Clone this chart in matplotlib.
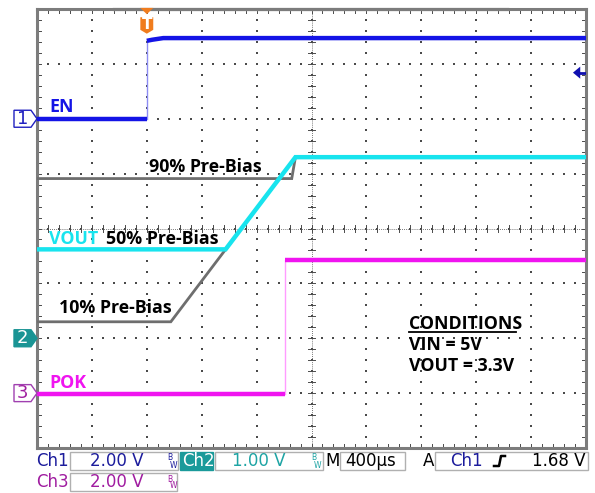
import numpy as np
import matplotlib.pyplot as plt
from matplotlib.patches import Polygon, Rectangle
from matplotlib.transforms import blended_transform_factory

W, H = 595, 493

# timebase: 400 us/div, trigger point 2 div in from the left edge
t_per_div = 400
t_start, t_stop = -800, 3200

# vertical settings: V/div and ground marker (div from bottom)
ch1_scale, ch1_gnd = 2.0, 6.0
ch2_scale, ch2_gnd = 1.0, 2.0
ch3_scale, ch3_gnd = 2.0, 1.0
trig_level = 1.68

# EN (ch1)
en_t = [-800, 0, 0, 40, 120, 3200]
en_v = [0.0, 0.0, 2.84, 2.88, 2.94, 2.94]
# VOUT, 50% pre-bias (ch2)
vout50_t = [-800, 574, 1083, 3200]
vout50_v = [1.62, 1.62, 3.30, 3.30]
# VOUT, 10% and 90% pre-bias (ch2, reference traces)
vout10_t = [-800, 175, 1083, 3200]
vout10_v = [0.30, 0.30, 3.30, 3.30]
vout90_t = [-800, 1056, 1083, 3200]
vout90_v = [2.91, 2.91, 3.30, 3.30]
# POK (ch3)
pok_t = [-800, 1005, 1005, 3200]
pok_v = [-0.05, -0.05, 4.85, 4.85]

c_en = '#1414e6'
c_vout = '#18e4ee'
c_pok = '#f014f0'
c_ref = '#6e6e6e'

fig = plt.figure(figsize=(W / 100, H / 100), dpi=100)
ax = fig.add_axes([37 / W, (H - 448) / H, 549 / W, 439 / H])
ax.set_xlim(t_start, t_stop)
ax.set_ylim(0, 8)
ax.set_xticks([])
ax.set_yticks([])
for s in ax.spines.values():
    s.set_color('#7c7c7c')
    s.set_linewidth(2.2)


def to_div(v, scale, gnd):
    return gnd + np.asarray(v, float) / scale


def draw_trace(t, v, scale, gnd, color, edge, lw, z):
    t = np.asarray(t, float)
    y = to_div(v, scale, gnd)
    start = 0
    for i in range(1, len(t)):
        if t[i] == t[i - 1]:
            # fast edges are painted faintly by the scope
            ax.plot(t[start:i], y[start:i], color=color, lw=lw, zorder=z,
                    solid_capstyle='butt')
            ax.plot(t[i - 1:i + 1], y[i - 1:i + 1], color=edge, lw=1.0,
                    zorder=z - 0.5)
            start = i
    ax.plot(t[start:], y[start:], color=color, lw=lw, zorder=z,
            solid_capstyle='butt', solid_joinstyle='miter')


# graticule: dotted division lines
step = t_per_div / 5
dots_x, dots_y = [], []
for k in range(1, 10):
    ys = np.arange(0, 8.001, 0.2)
    dots_x += [t_start + k * t_per_div] * len(ys)
    dots_y += list(ys)
for k in range(1, 8):
    xs = np.arange(t_start, t_stop + 1, step)
    dots_x += list(xs)
    dots_y += [k] * len(xs)
ax.scatter(dots_x, dots_y, s=1.2, marker='s', color='#4a4a4a', lw=0, zorder=1)

# centre crosshair and edge ticks
tc = (t_start + t_stop) / 2
ax.plot([t_start, t_stop], [4, 4], color='#4a4a4a', lw=0.6, ls=(0, (1, 1.5)), zorder=1)
ax.plot([tc, tc], [0, 8], color='#4a4a4a', lw=0.6, ls=(0, (1, 1.5)), zorder=1)
xt = np.arange(t_start, t_stop + 1, step)
yt = np.arange(0, 8.001, 0.2)
tl = 0.07
tlx = tl * t_per_div
for x in xt:
    ax.plot([x, x], [4 - tl, 4 + tl], color='#4a4a4a', lw=0.7, zorder=1)
    ax.plot([x, x], [8, 8 - tl], color='#4a4a4a', lw=0.7, zorder=1)
    ax.plot([x, x], [0, tl], color='#4a4a4a', lw=0.7, zorder=1)
for y in yt:
    ax.plot([tc - tlx, tc + tlx], [y, y], color='#4a4a4a', lw=0.7, zorder=1)
    ax.plot([t_start, t_start + tlx], [y, y], color='#4a4a4a', lw=0.7, zorder=1)
    ax.plot([t_stop, t_stop - tlx], [y, y], color='#4a4a4a', lw=0.7, zorder=1)

# record window bar along the top edge
ax.plot([-240, 2623], [8, 8], color='#b4b4b4', lw=2.4, zorder=2, clip_on=False)

# traces
draw_trace(vout10_t, vout10_v, ch2_scale, ch2_gnd, c_ref, c_ref, 2.0, 3)
draw_trace(vout90_t, vout90_v, ch2_scale, ch2_gnd, c_ref, c_ref, 2.0, 3)
draw_trace(vout50_t, vout50_v, ch2_scale, ch2_gnd, c_vout, c_vout, 3.2, 4)
draw_trace(en_t, en_v, ch1_scale, ch1_gnd, c_en, '#8c8cf4', 3.2, 5)
draw_trace(pok_t, pok_v, ch3_scale, ch3_gnd, c_pok, '#ff9cff', 3.2, 5)

# trace labels
lab = dict(fontsize=12.8, fontweight='bold', family='Open Sans', va='center', zorder=6)
ax.text(-711, 6.21, 'EN', color=c_en, **lab)
ax.text(15, 5.12, '90% Pre-Bias', color='black', **lab)
ax.text(-711, 3.81, 'VOUT', color=c_vout, **lab)
ax.text(-299, 3.81, '50% Pre-Bias', color='black', **lab)
ax.text(-641, 2.55, '10% Pre-Bias', color='black', **lab)
ax.text(-711, 1.18, 'POK', color=c_pok, **lab)
ax.text(1909, 2.26, 'CONDITIONS', color='black', **lab)
ax.plot([1909, 2689], [2.11, 2.11], color='black', lw=1.3, zorder=6)
ax.text(1909, 1.88, 'VIN = 5V', color='black', **lab)
ax.text(1909, 1.49, 'VOUT = 3.3V', color='black', **lab)

# channel ground markers on the left edge
tr = blended_transform_factory(ax.transAxes, ax.transData)
x0, x1, x2 = -23 / 549, -6 / 549, 0.0
hh = 8.5 / 54.9
markers = [('1', ch1_gnd, 'white', '#2020c0', '#2020c0'),
           ('2', ch2_gnd, '#1a9494', '#1a9494', 'white'),
           ('3', ch3_gnd, 'white', '#a040b0', '#a020a0')]
for txt, g, fc, ec, tc_ in markers:
    pts = [(x0, g + hh), (x1, g + hh), (x2, g), (x1, g - hh), (x0, g - hh)]
    ax.add_patch(Polygon(pts, closed=True, transform=tr, fc=fc, ec=ec, lw=1.0,
                         clip_on=False, zorder=7))
    ax.text((x0 + x1) / 2, g, txt, transform=tr, ha='center', va='center',
            color=tc_, fontsize=13, family='DejaVu Sans', clip_on=False, zorder=8)

# trigger position marker
c_trig = '#f07c1e'
dx = 47
ax.add_patch(Polygon([(-dx, 8.02), (dx, 8.02), (0, 7.905)], closed=True,
                     fc=c_trig, ec='none', clip_on=False, zorder=7))
ax.add_patch(Polygon([(-dx, 7.85), (dx, 7.85), (dx, 7.62), (0, 7.55), (-dx, 7.62)],
                     closed=True, fc=c_trig, ec='none', clip_on=False, zorder=7))
ax.text(0, 7.72, 'T', ha='center', va='center', color='white', fontsize=11,
        fontweight='bold', family='DejaVu Sans', zorder=8)

# trigger level arrow on the right edge
ty = to_div(trig_level, ch1_scale, ch1_gnd)
ax.add_patch(Polygon([(3105, ty), (3158, ty + 0.11), (3158, ty - 0.11)],
                     closed=True, fc='#1010b0', ec='none', zorder=7))
ax.plot([3150, 3200], [ty, ty], color='#1010b0', lw=2, zorder=7)

# status bar
def fx(x):
    return x / W


def fy(y):
    return 1 - y / H


def box(x0_, x1_, y0_, y1_, fc='white', ec='#b0b0b0'):
    fig.add_artist(Rectangle((fx(x0_), fy(y1_)), fx(x1_) - fx(x0_), fy(y0_) - fy(y1_),
                             transform=fig.transFigure, fc=fc, ec=ec, lw=1.0))


box(70, 178, 452, 470)
box(180, 213, 452, 470, fc='#1a9a9a', ec='#1a9a9a')
box(215, 323, 452, 470)
box(340, 405, 452, 470)
box(435, 588, 452, 470)
box(70, 177, 473, 491)

c1 = '#1c1c9c'
c2 = '#1ea4a4'
c3 = '#a01ca0'
st = dict(fontsize=12, family='DejaVu Sans', va='center')
r1, r2 = fy(461), fy(482)
fig.text(fx(36), r1, 'Ch1', color=c1, **st)
fig.text(fx(90), r1, '2.00 V', color=c1, **st)
fig.text(fx(182), r1, 'Ch2', color='white', **st)
fig.text(fx(232), r1, '1.00 V', color=c2, **st)
fig.text(fx(325), r1, 'M', color='black', **st)
fig.text(fx(345), r1, '400µs', color='black', **st)
fig.text(fx(423), r1, 'A', color='black', **st)
fig.text(fx(450), r1, 'Ch1', color=c1, **st)
fig.text(fx(585), r1, '1.68 V', color='black', ha='right', **st)
fig.text(fx(36), r2, 'Ch3', color=c3, **st)
fig.text(fx(90), r2, '2.00 V', color=c3, **st)

# bandwidth-limit flags
for xb, yb, col in [(167, 461, c1), (311, 461, c2), (167, 482, c3)]:
    fig.text(fx(xb), fy(yb - 3), 'B', color=col, fontsize=5.5, family='DejaVu Sans', va='center')
    fig.text(fx(xb + 3), fy(yb + 4), 'W', color=col, fontsize=5.5, family='DejaVu Sans', va='center')

# rising-edge symbol
edge_x = [494, 499, 501, 505]
edge_y = [466, 466, 456, 456]
fig.add_artist(plt.Line2D([fx(x) for x in edge_x], [fy(y) for y in edge_y],
                          transform=fig.transFigure, color='black', lw=1.8))

fig.savefig('out.png', dpi=100)
